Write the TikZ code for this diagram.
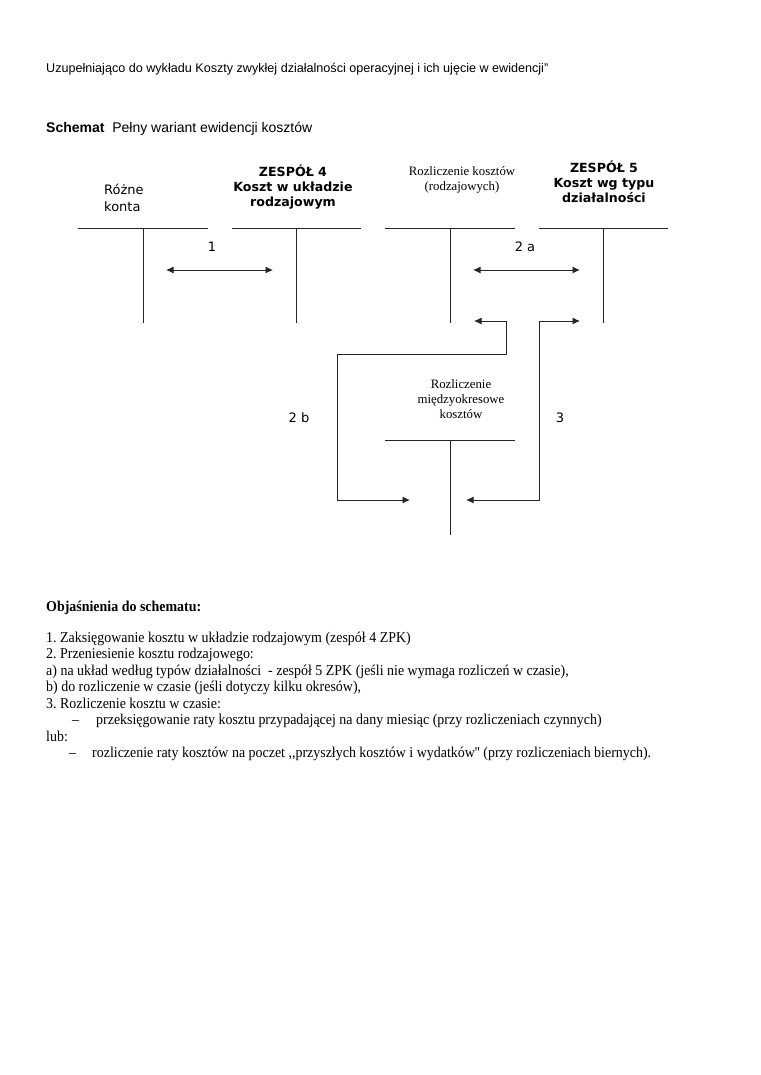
\documentclass[tikz,border=0pt]{standalone}
\usepackage{fontspec}
\setmainfont{Liberation Serif}
\newfontfamily\arialf{Liberation Sans}
\newfontfamily\dejaf{DejaVu Sans}
\newfontfamily\serf{Liberation Serif}
\newfontfamily\bodyf[FakeStretch=0.93]{Liberation Serif}
\usetikzlibrary{arrows.meta}
\frenchspacing
\begin{document}
\begin{tikzpicture}[x=1pt,y=-1pt,
  lin/.style={line width=0.9pt, draw=black!85},
  dbl/.style={line width=0.9pt, draw=black!85, {Latex[length=7.5pt,width=7pt]}-{Latex[length=7.5pt,width=7pt]}},
  hdr/.style={inner sep=0pt, anchor=base west, font=\arialf\fontsize{12.6}{14}\selectfont},
  body/.style={inner sep=0pt, anchor=base west, font=\bodyf\fontsize{15}{17}\selectfont},
  boldlab/.style={inner sep=0pt, align=center, font=\dejaf\bfseries\fontsize{12.6}{15}\selectfont},
  serlab/.style={inner sep=0pt, align=center, font=\serf\fontsize{12.8}{15}\selectfont},
  sanslab/.style={inner sep=0pt, font=\dejaf\fontsize{13}{17}\selectfont}]
\useasboundingbox[fill=white] (0,0) rectangle (760,1075);

% header
\node[hdr] (h1) at (46,73) {Uzupełniająco do wykładu Koszty zwykłej działalności operacyjnej i ich ujęcie w ewidencji”};
\node[hdr, font=\arialf\fontsize{14}{16}\selectfont] (h2) at (46,133) {\textbf{Schemat}\ \ Pełny wariant ewidencji kosztów};

% T accounts
\coordinate (aL) at (78,228); \coordinate (aR) at (208,228); \coordinate (aT) at (143,228); \coordinate (aB) at (143,323);
\coordinate (bL) at (232,228); \coordinate (bR) at (361,228); \coordinate (bT) at (296,228); \coordinate (bB) at (296,323);
\coordinate (cL) at (385,228); \coordinate (cR) at (515,228); \coordinate (cT) at (450,228); \coordinate (cB) at (450,323);
\coordinate (dL) at (539,228); \coordinate (dR) at (668,228); \coordinate (dT) at (603,228); \coordinate (dB) at (603,323);
\coordinate (eL) at (385,440); \coordinate (eR) at (515,440); \coordinate (eT) at (450,440); \coordinate (eB) at (450,535);
\foreach \t in {a,b,c,d,e}{
  \draw[lin] (\t L) -- (\t R);
  \draw[lin] (\t T) -- (\t B);
}

% account labels
\node[sanslab, align=left, anchor=west] (lab1) at (104,197.5) {Różne\\konta};
\node[boldlab] (lab2) at (293,187) {ZESPÓŁ 4\\Koszt w układzie\\rodzajowym};
\node[serlab] (lab3) at (462,180) {Rozliczenie kosztów\\(rodzajowych)};
\node[boldlab] (lab4) at (604,182) {ZESPÓŁ 5\\Koszt wg typu\\działalności};
\node[serlab] (lab5) at (461,399) {Rozliczenie\\międzyokresowe\\kosztów};

% flows
\coordinate (f1a) at (166,270); \coordinate (f1b) at (273,270);
\draw[dbl] (f1a) -- (f1b);
\node[sanslab] (n1) at (212,247) {1};

\coordinate (f2a) at (473,270); \coordinate (f2b) at (580,270);
\draw[dbl] (f2a) -- (f2b);
\node[sanslab] (n2a) at (525,247) {2 a};

\coordinate (g1) at (474,321); \coordinate (g2) at (506,321); \coordinate (g3) at (506,354);
\coordinate (g4) at (337,354); \coordinate (g5) at (337,500); \coordinate (g6) at (410,500);
\draw[dbl] (g1) -- (g2) -- (g3) -- (g4) -- (g5) -- (g6);
\node[sanslab] (n2b) at (299,418) {2 b};

\coordinate (k1) at (466,500); \coordinate (k2) at (539,500); \coordinate (k3) at (539,321); \coordinate (k4) at (580,321);
\draw[dbl] (k1) -- (k2) -- (k3) -- (k4);
\node[sanslab] (n3) at (560,418) {3};

% explanations
\node[body, font=\bodyf\bfseries\fontsize{15}{17}\selectfont] (t0) at (46,611) {Objaśnienia do schematu:};
\node[body] (t1) at (46,642) {1. Zaksięgowanie kosztu w układzie rodzajowym (zespół 4 ZPK)};
\node[body] (t2) at (46,658.5) {2. Przeniesienie kosztu rodzajowego:};
\node[body] (t3) at (46,675) {a) na układ według typów działalności\ \ - zespół 5 ZPK (jeśli nie wymaga rozliczeń w czasie),};
\node[body] (t4) at (46,691.5) {b) do rozliczenie w czasie (jeśli dotyczy kilku okresów),};
\node[body] (t5) at (46,708) {3. Rozliczenie kosztu w czasie:};
\node[body] (t6d) at (72,724.5) {–};
\node[body] (t6) at (96,724.5) {przeksięgowanie raty kosztu przypadającej na dany miesiąc (przy rozliczeniach czynnych)};
\node[body] (t7) at (46,741) {lub:};
\node[body] (t8d) at (69,757.5) {–};
\node[body] (t8) at (92,757.5) {rozliczenie raty kosztów na poczet ,,przyszłych kosztów i wydatków'' (przy rozliczeniach biernych).};
\end{tikzpicture}
\end{document}
